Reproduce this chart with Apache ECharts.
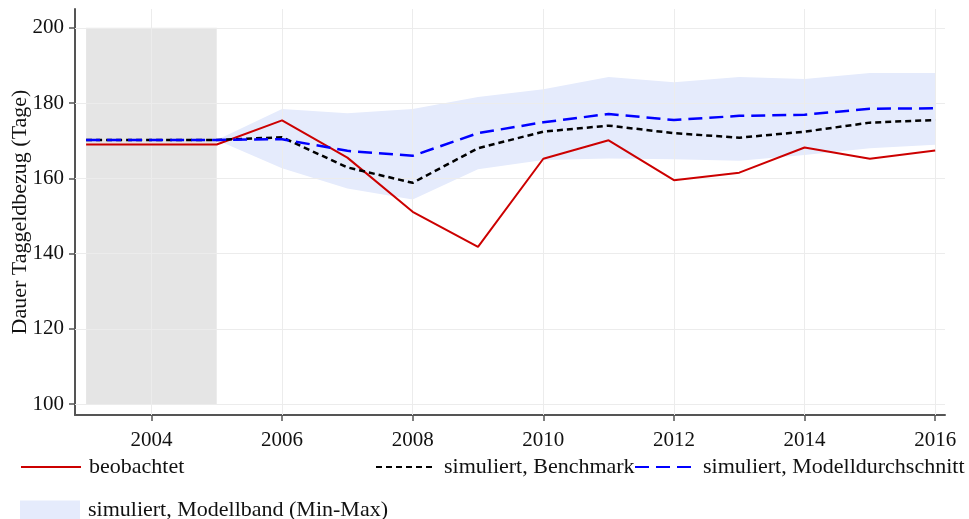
<!DOCTYPE html>
<html>
<head>
<meta charset="utf-8">
<title></title>
<script type="text/javascript" src="https://cdn.jsdelivr.net/npm/echarts@6/dist/echarts.min.js"></script>
<style>
body { margin: 0; background: #fff; }
#main { width: 969px; height: 519px; }
</style>
</head>
<body>
<div id="main"></div>
<script type="text/javascript">
var years = [2003, 2004, 2005, 2006, 2007, 2008, 2009, 2010, 2011, 2012, 2013, 2014, 2015, 2016];
var observed = [169.0, 169.0, 169.0, 175.4, 165.5, 151.1, 141.8, 165.2, 170.1, 159.5, 161.5, 168.2, 165.2, 167.4];
var benchmark = [170.2, 170.2, 170.2, 170.9, 162.9, 158.8, 168.0, 172.4, 174.0, 172.0, 170.8, 172.4, 174.8, 175.5];
var modelMean = [170.2, 170.2, 170.2, 170.4, 167.3, 166.0, 172.0, 174.9, 177.1, 175.5, 176.6, 176.9, 178.5, 178.6];

var bandYears = [2005, 2006, 2007, 2008, 2009, 2010, 2011, 2012, 2013, 2014, 2015, 2016];
var bandMin = [170.2, 162.7, 157.3, 154.4, 162.4, 164.9, 165.3, 165.1, 164.7, 166.2, 168.0, 168.9];
var bandMax = [170.2, 178.4, 177.3, 178.4, 181.6, 183.7, 186.9, 185.5, 186.9, 186.4, 188.0, 188.0];

var xTicks = [2004, 2006, 2008, 2010, 2012, 2014, 2016];
var yTicks = [100, 120, 140, 160, 180, 200];
var calibration = [2003, 2005];

var FONT = 'Liberation Serif';

function pairs(xs, ys) {
    return xs.map(function (x, i) { return [x, ys[i]]; });
}

var myChart = echarts.init(document.getElementById('main'));

var gridLines = xTicks.map(function (v) { return { xAxis: v }; })
    .concat(yTicks.map(function (v) { return { yAxis: v }; }));

// band polygon: upper edge forward, lower edge back
function renderBand(params, api) {
    if (params.dataIndex !== 0) return;
    var pts = [];
    for (var i = 0; i < bandYears.length; i++) pts.push(api.coord([bandYears[i], bandMax[i]]));
    for (var j = bandYears.length - 1; j >= 0; j--) pts.push(api.coord([bandYears[j], bandMin[j]]));
    return {
        type: 'polygon',
        shape: { points: pts },
        style: { fill: '#e5ebfc' },
        silent: true
    };
}

function legendBox(left, top, names, extra) {
    var l = {
        left: left, top: top, padding: 0,
        itemWidth: 60, itemHeight: 18,
        itemStyle: { opacity: 0 },
        data: names,
        textStyle: { fontFamily: FONT, fontSize: 22, color: '#111', padding: [0, 0, 0, 3] }
    };
    for (var k in extra) l[k] = extra[k];
    return l;
}

var option = {
    animation: false,
    grid: { left: 75, right: 24, top: 9, bottom: 104, outerBoundsMode: 'none' },
    xAxis: {
        type: 'value',
        min: 2002.83,
        max: 2016.15,
        axisLine: { show: true, lineStyle: { color: '#555', width: 2 } },
        axisTick: { show: true, customValues: xTicks, length: 6, lineStyle: { color: '#555', width: 1.5 } },
        axisLabel: {
            customValues: xTicks, color: '#111', fontFamily: FONT, fontSize: 21, margin: 15,
            formatter: function (v) { return String(v); }
        },
        splitLine: { show: false }
    },
    yAxis: {
        type: 'value',
        min: 97.1,
        max: 205,
        name: 'Dauer Taggeldbezug (Tage)',
        nameLocation: 'middle',
        nameGap: 44,
        nameMoveOverlap: false,
        nameTextStyle: { color: '#111', fontFamily: FONT, fontSize: 22 },
        axisLine: { show: true, lineStyle: { color: '#555', width: 2 } },
        axisTick: { show: true, customValues: yTicks, length: 6, lineStyle: { color: '#555', width: 1.5 } },
        axisLabel: { customValues: yTicks, color: '#111', fontFamily: FONT, fontSize: 21, margin: 11 },
        splitLine: { show: false }
    },
    legend: [
        legendBox(20, 456, ['beobachtet']),
        legendBox(375, 456, ['simuliert, Benchmark']),
        legendBox(634, 456, ['simuliert, Modelldurchschnitt']),
        legendBox(20, 499, [{ name: 'simuliert, Modellband (Min-Max)', icon: 'rect' }],
            { itemHeight: 19, itemStyle: { color: '#e5ebfc' } })
    ],
    series: [
        {
            name: 'grid',
            type: 'line',
            z: 1,
            symbol: 'none',
            lineStyle: { opacity: 0 },
            data: [],
            markLine: {
                silent: true,
                symbol: 'none',
                label: { show: false },
                lineStyle: { color: '#ececec', width: 1, type: 'solid' },
                data: gridLines
            }
        },
        {
            name: 'simuliert, Modellband (Min-Max)',
            type: 'custom',
            z: 2,
            itemStyle: { color: '#e5ebfc' },
            renderItem: renderBand,
            encode: { x: 0, y: [1, 2] },
            data: bandYears.map(function (x, i) { return [x, bandMin[i], bandMax[i]]; }),
            markArea: {
                silent: true,
                itemStyle: { color: '#e5e5e5' },
                data: [[{ xAxis: calibration[0], yAxis: 100 }, { xAxis: calibration[1], yAxis: 200 }]]
            }
        },
        {
            name: 'beobachtet',
            type: 'line',
            z: 5,
            symbol: 'none',
            color: '#cc0000',
            lineStyle: { color: '#cc0000', width: 2 },
            data: pairs(years, observed)
        },
        {
            name: 'simuliert, Benchmark',
            type: 'line',
            z: 5,
            symbol: 'none',
            color: '#000',
            lineStyle: { color: '#000', width: 2.5, type: [6, 4] },
            data: pairs(years, benchmark)
        },
        {
            name: 'simuliert, Modelldurchschnitt',
            type: 'line',
            z: 6,
            symbol: 'none',
            color: '#0000ff',
            lineStyle: { color: '#0000ff', width: 2.5, type: [14, 7] },
            data: pairs(years, modelMean)
        }
    ]
};

myChart.setOption(option);
</script>
</body>
</html>
